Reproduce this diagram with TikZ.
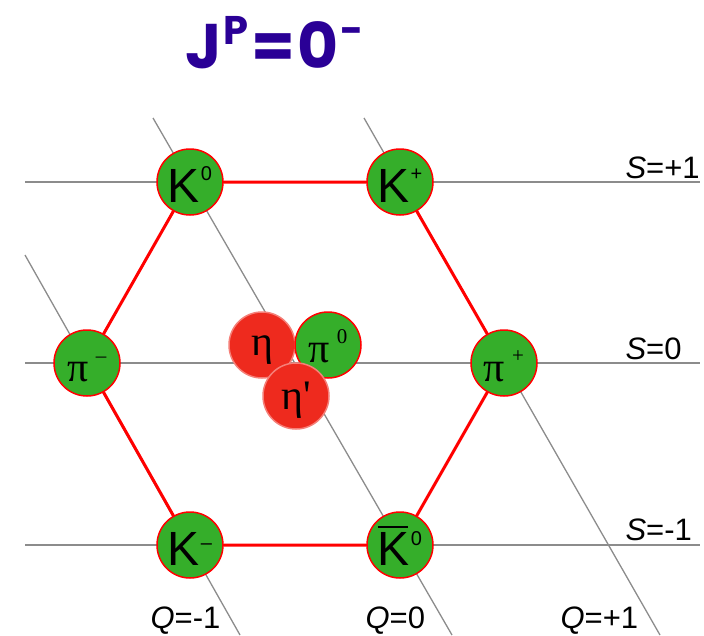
\documentclass[tikz,border=0pt]{standalone}
\usepackage{fontspec}
\setmainfont{Liberation Sans}
\newfontfamily\griegafont{Liberation Serif}
\newfontfamily\titulofont{Poppins}
\usepackage{tikz}
\usetikzlibrary{backgrounds}
\definecolor{mesonverde}{HTML}{35AE2A}
\definecolor{mesonrojo}{HTML}{EE2A1E}
\definecolor{azultitulo}{HTML}{2A0096}
\definecolor{rejilla}{HTML}{8C8C8C}
\newcommand{\supk}[2][22pt]{\hspace{1pt}\raisebox{#1}{\fontsize{20}{20}\selectfont #2}}
\newcommand{\supgr}[2][19pt]{\hspace{7pt}\raisebox{#1}{\griegafont\fontsize{21}{21}\selectfont #2}}
\newcommand{\griega}[1]{{\griegafont\fontsize{42}{42}\selectfont #1}}

\begin{document}
\begin{tikzpicture}[x=1pt, y=-1pt, line cap=round,
    meson/.style={circle, draw=red, line width=1.5pt, fill=mesonverde, minimum size=66pt, inner sep=0pt},
    singlete/.style={meson, fill=mesonrojo, draw=mesonrojo!60!white},
    kaon/.style={text height=40pt, text depth=0pt, font=\fontsize{48}{48}\selectfont},
    pion/.style={text height=36pt, text depth=0pt},
    eta/.style={text height=20pt, text depth=0pt},
    arista/.style={red, line width=3pt},
    linearejilla/.style={rejilla, line width=1.3pt},
    etiqueta/.style={anchor=base west, font=\fontsize{31}{31}\selectfont}]
  \useasboundingbox (0,0) rectangle (704,635);

  % Titulo
  \node[anchor=base west, inner sep=0pt, text=azultitulo, font=\titulofont\bfseries\fontsize{63}{63}\selectfont] (titulo) at (185,68)
    {J\hspace{2pt}\raisebox{24pt}{\fontsize{40}{40}\selectfont P}\hspace{3pt}=\hspace{2pt}0\hspace{2pt}\raisebox{24pt}{\fontsize{40}{40}\selectfont -}};

  % Octete
  \node[meson, kaon] (K0) at (190,182) {K\supk{0}};
  \node[meson, kaon] (Kp) at (400,182) {K\supk{+}};
  \node[meson, pion] (pim) at (87,363) {\griega{π}\supgr{–}};
  \node[meson, pion] (pip) at (504,363) {\griega{π}\supgr{+}};
  \node[meson, kaon] (Km) at (190,545) {K\supk[16pt]{–}};
  \node[meson, kaon] (K0b) at (400,545) {\rlap{\rule[37pt]{30pt}{2.5pt}}K\supk[20pt]{0}};

  % Centro
  \node[singlete, eta] (eta) at (262,345) {\griega{η}};
  \node[meson, pion, text height=34pt] (pi0) at (328,345) {\griega{π}\supgr{0}};
  \node[singlete, eta, text height=26pt] (etap) at (296,396) {\griega{η'}};

  % Hexagono
  \draw[arista] (K0) -- (Kp) -- (pip) -- (K0b) -- (Km) -- (pim) -- (K0);

  % Rejilla de S y Q
  \coordinate (s1a) at (25,182);  \coordinate (s1b) at (700,182);
  \coordinate (s0a) at (25,363);  \coordinate (s0b) at (700,363);
  \coordinate (sma) at (25,545);  \coordinate (smb) at (700,545);
  \coordinate (qma) at (25,255);  \coordinate (qmb) at (240,635);
  \coordinate (q0a) at (153,118); \coordinate (q0b) at (452,635);
  \coordinate (qpa) at (364,118); \coordinate (qpb) at (660,635);
  \begin{scope}[on background layer]
    \draw[linearejilla] (s1a) -- (s1b);
    \draw[linearejilla] (s0a) -- (s0b);
    \draw[linearejilla] (sma) -- (smb);
    \draw[linearejilla] (qma) -- (qmb);
    \draw[linearejilla] (q0a) -- (q0b);
    \draw[linearejilla] (qpa) -- (qpb);
  \end{scope}

  % Etiquetas
  \node[etiqueta] (etS1) at (622,178) {\textit{S}=+1};
  \node[etiqueta] (etS0) at (622,359) {\textit{S}=0};
  \node[etiqueta] (etSm) at (622,540) {\textit{S}=-1};
  \node[etiqueta] (etQm) at (147,628) {\textit{Q}=-1};
  \node[etiqueta] (etQ0) at (362,628) {\textit{Q}=0};
  \node[etiqueta] (etQp) at (557,628) {\textit{Q}=+1};
\end{tikzpicture}
\end{document}
